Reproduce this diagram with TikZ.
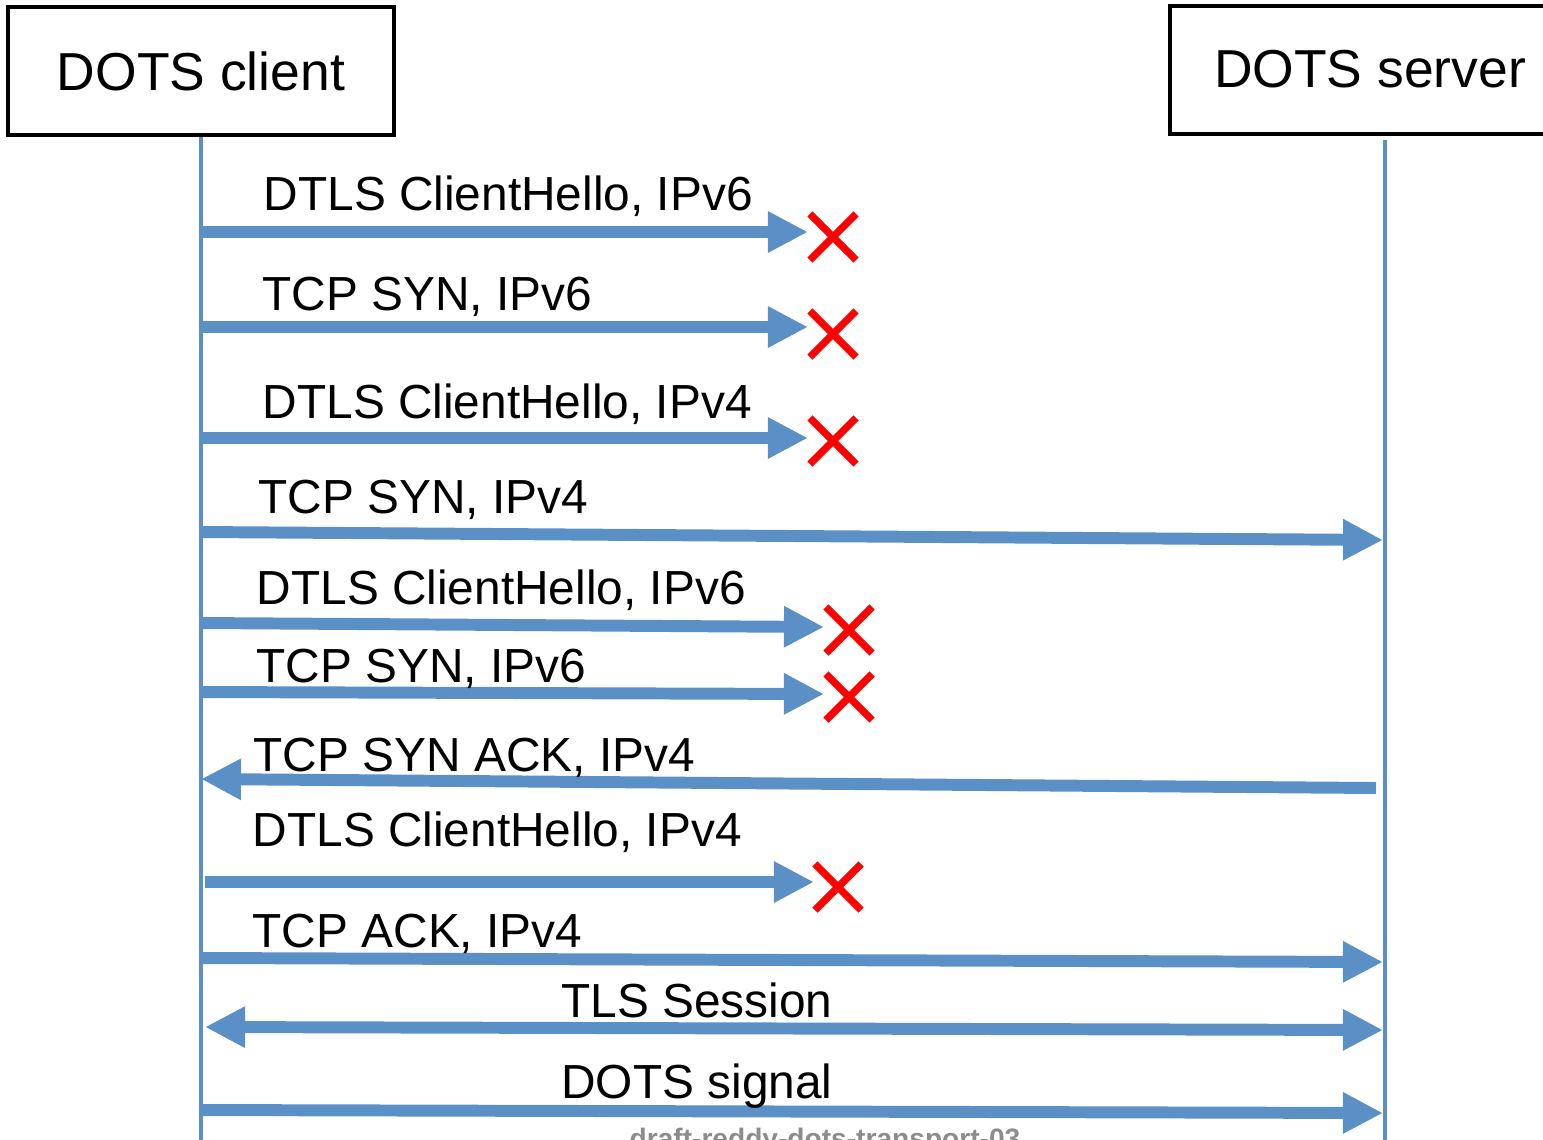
\documentclass[tikz,border=0pt]{standalone}
\usepackage{fontspec}
\setmainfont{Liberation Sans}
\usepackage{xcolor}
\usetikzlibrary{arrows.meta,shapes.misc}
\usetikzlibrary{positioning}
\definecolor{msgblue}{RGB}{91,144,199}
\definecolor{dropred}{RGB}{255,0,0}

\begin{document}
\begin{tikzpicture}[x=0.01cm, y=-0.01cm]
    \tikzstyle{actor}=[draw, line width=1.3pt, inner sep=0pt, minimum height=1.28cm, font=\fontsize{15.2}{18}\selectfont]
    \tikzstyle{life}=[draw=msgblue, line width=1.4pt]
    \tikzstyle{msg}=[draw=msgblue, line width=3.4pt, -{Triangle[length=11.4pt,width=11pt]}]
    \tikzstyle{lbl}=[anchor=base west, inner sep=0pt, font=\fontsize{13.6}{16}\selectfont]
    \tikzstyle{drop}=[draw=dropred, cross out, line width=2.1pt, minimum size=11pt, inner sep=0pt]
\clip (0,0) rectangle (1543,1139);
    \node[actor, minimum width=3.86cm] (client) at (201,71) {\raisebox{-2pt}{DOTS client}};
    \node[actor, minimum width=4cm] (server) at (1370,70) {\raisebox{0.6pt}{DOTS server}};
    \coordinate (cbot) at (201,1145);
    \coordinate (stop) at (1385,140);
    \coordinate (sbot) at (1385,1145);
    \draw[life] (client.south) -- (cbot);
    \draw[life] (stop) -- (sbot);
% messages: number / start / end / label position / text
\foreach \n/\xa/\ya/\xb/\yb/\lx/\ly/\txt in {
      1/201/232/808/232/263/210/{DTLS ClientHello, IPv6},
      2/201/327/808/327/262/310/{TCP SYN, IPv6},
      3/201/438/808/438/262/418/{DTLS ClientHello, IPv4},
      4/201/532/1383/540/258/513/{TCP SYN, IPv4},
      5/201/623/824/627/256/604/{DTLS ClientHello, IPv6},
      6/201/692/824/694/256/682/{TCP SYN, IPv6},
      7/1376/788/201/779/253/771/{TCP SYN ACK, IPv4},
      8/205/882/814/882/252/846/{DTLS ClientHello, IPv4},
      9/201/958/1383/962/252/947/{TCP ACK, IPv4},
      11/201/1110/1383/1113/0/0/{}}{
    \coordinate (m\n a) at (\xa,\ya);
    \coordinate (m\n b) at (\xb,\yb);
    \draw[msg] (m\n a) -- (m\n b);
    \node[lbl] (l\n) at (\lx,\ly) {\txt};
      }
    \coordinate (m10a) at (205,1027);
    \coordinate (m10b) at (1383,1030);
    \draw[msg, {Triangle[length=11.4pt,width=11pt]}-{Triangle[length=11.4pt,width=11pt]}] (m10a) -- (m10b);
    \node[lbl, anchor=base] (l10) at (697,1017) {TLS Session};
    \node[lbl, anchor=base] (l11b) at (697,1098) {DOTS signal};
% dropped packets
\foreach \n/\x/\y in {1/833/237, 2/833/334, 3/833/441, 5/849/630, 6/849/697, 8/838/887}{
    \node[drop] (x\n) at (\x,\y) {};
      }
    \node[anchor=north, inner sep=0pt, text=black!45, font=\fontsize{8}{9}\selectfont\bfseries] (foot) at (825,1127) {draft-reddy-dots-transport-03};
   \end{tikzpicture}
\end{document}
